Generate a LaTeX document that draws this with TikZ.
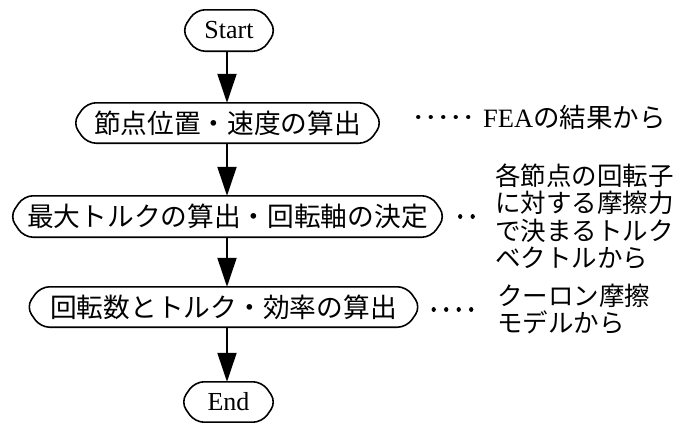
\documentclass[tikz,border=0pt]{standalone}
\usepackage{fontspec}
\setmainfont{Liberation Serif}
\newfontfamily\jp{Noto Sans CJK JP}
\usetikzlibrary{arrows.meta}
\newcommand\capsuleoutline[1]{%
  \draw[capline] (#1.north) -- ([xshift=-14pt]#1.north east) -- (#1.east)
    -- ([xshift=-14pt]#1.south east) -- ([xshift=14pt]#1.south west)
    -- (#1.west) -- ([xshift=14pt]#1.north west) -- cycle;}
\begin{document}
\begin{tikzpicture}[x=1pt,y=-1pt,
  boxnode/.style={rectangle, inner sep=0pt, minimum height=40pt},
  jpbox/.style={boxnode, font=\jp\fontsize{26.7}{30}\selectfont},
  enbox/.style={boxnode, font=\fontsize{26}{30}\selectfont},
  capline/.style={line width=1.6pt, rounded corners=9pt, line join=round},
  flowarrow/.style={line width=2pt, -{Triangle[width=19pt,length=29pt]}},
  dotlink/.style={line width=4.3pt, line cap=round, dash pattern=on 0.01pt off 12.49pt},
  note/.style={anchor=west, inner sep=0pt, align=left, font=\jp\fontsize{25.5}{27.2}\selectfont}]
\useasboundingbox (0,0) rectangle (681,423);
\coordinate (col) at (227,0);

\node[enbox, minimum width=94pt, minimum height=41pt] (start) at (229,30.5) {Start};
\node[jpbox, minimum width=309pt] (n1) at (227.5,123) {節点位置・速度の算出};
\node[jpbox, minimum width=435pt, minimum height=41pt] (n2) at (227.5,216.5) {最大トルクの算出・回転軸の決定};
\node[jpbox, minimum width=394pt] (n3) at (223.5,307) {回転数とトルク・効率の算出};
\node[enbox, minimum width=95pt] (end) at (228.5,402) {End};

\capsuleoutline{start}
\capsuleoutline{n1}
\capsuleoutline{n2}
\capsuleoutline{n3}
\capsuleoutline{end}

\draw[flowarrow] (start.south -| col) -- (n1.north -| col);
\draw[flowarrow] (n1.south -| col) -- (n2.north -| col);
\draw[flowarrow] (n2.south -| col) -- (n3.north -| col);
\draw[flowarrow] (n3.south -| col) -- (end.north -| col);

\node[note, font=\jp\fontsize{26.5}{28}\selectfont] (a1) at (483,117) {{\rmfamily FEA}の結果から};
\node[note] (a2) at (495,216.5) {各節点の回転子\\に対する摩擦力\\で決まるトルク\\ベクトルから};
\node[note] (a3) at (497,309.5) {クーロン摩擦\\モデルから};

\draw[dotlink, shorten <=36pt, shorten >=14.8pt] (n1.east |- a1.west) -- (a1.west);
\draw[dotlink, shorten <=15pt, shorten >=22.3pt] (n2.east |- a2.west) -- (a2.west);
\draw[dotlink, shorten <=13pt, shorten >=25.8pt] (n3.east |- a3.west) -- (a3.west);
\end{tikzpicture}
\end{document}
